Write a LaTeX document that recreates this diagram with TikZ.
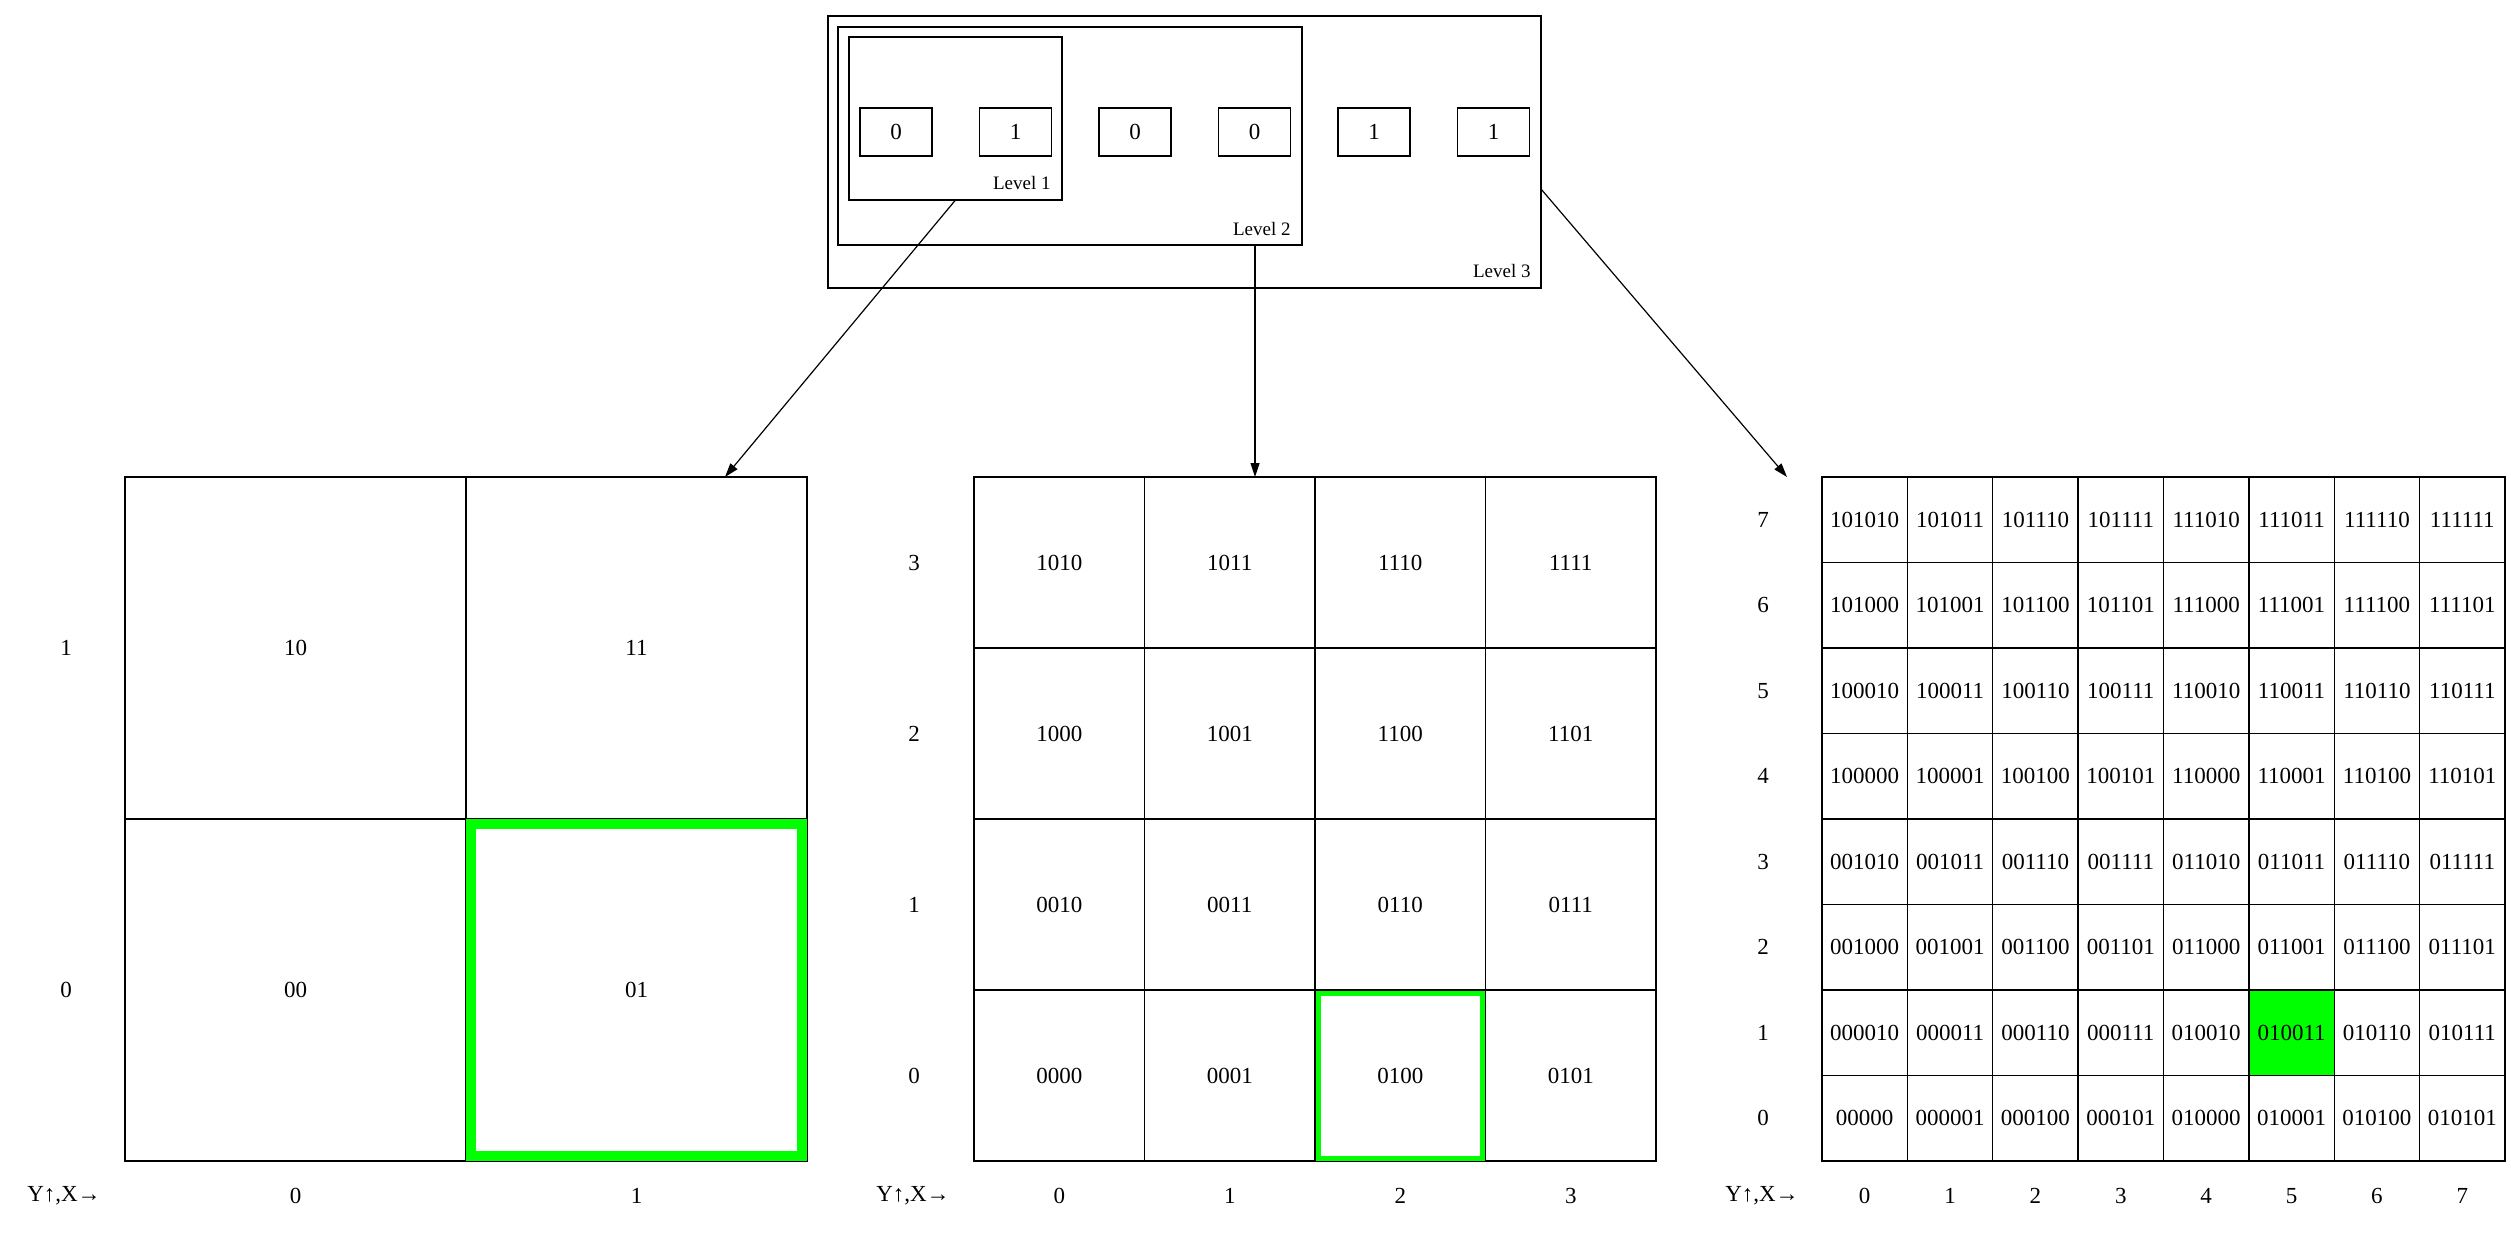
\documentclass[tikz,border=0pt]{standalone}
\usepackage{fontspec}
\setmainfont{Liberation Serif}
\usetikzlibrary{arrows.meta,positioning,backgrounds}
\definecolor{hitgreen}{RGB}{0,255,0}

\begin{document}
\begin{tikzpicture}[x=0.5pt,y=-0.5pt,
  every node/.style={font=\fontsize{11.5}{13}\selectfont},
  levelbox/.style={draw, line width=0.7pt, inner sep=0pt, outer sep=0pt},
  bitbox/.style={draw, line width=0.7pt, minimum width=36pt, minimum height=24pt, inner sep=0pt, outer sep=0pt},
  levellabel/.style={anchor=base east, inner sep=0pt, font=\fontsize{9.5}{11}\selectfont},
  bigcell/.style={draw, line width=0.7pt, minimum width=170.5pt, minimum height=171pt, inner sep=0pt, outer sep=0pt},
  midcell/.style={draw, line width=0.7pt, minimum width=85.25pt, minimum height=85.5pt, inner sep=0pt, outer sep=0pt},
  smallcell/.style={draw, line width=0.7pt, minimum width=42.69pt, minimum height=42.75pt, inner sep=0pt, outer sep=0pt},
  link/.style={-{Triangle[length=7pt,width=4.5pt]}, line width=0.6pt}
]
\useasboundingbox (0,0) rectangle (2511,1237);

% Nested levels
\node[levelbox, minimum width=356.5pt, minimum height=136pt] (lvl3) at (1184.5,152) {};
\node[levelbox, minimum width=232pt, minimum height=109pt] (lvl2) at (1070,136) {};
\node[levelbox, minimum width=106.5pt, minimum height=81.5pt] (lvl1) at (955.5,118.5) {};
\node[levellabel] at ([shift={(-11,-11)}]lvl1.south east) {Level 1};
\node[levellabel] at ([shift={(-11,-10)}]lvl2.south east) {Level 2};
\node[levellabel] at ([shift={(-10,-11)}]lvl3.south east) {Level 3};

% Bits
\node[bitbox] (bit1) at (896,132) {0};
\node[bitbox, right=23.75pt of bit1] (bit2) {1};
\node[bitbox, right=23.75pt of bit2] (bit3) {0};
\node[bitbox, right=23.75pt of bit3] (bit4) {0};
\node[bitbox, right=23.75pt of bit4] (bit5) {1};
\node[bitbox, right=23.75pt of bit5] (bit6) {1};

% Level 1 grid
\foreach \c/\r/\lab in {0/1/10, 1/1/11, 0/0/00, 1/0/01}
  \node[bigcell] (lc-\c-\r) at ({295.5+341*\c},{990-342*\r}) {\lab};
\node at (66,648) {1};
\node at (66,990) {0};
\node at (64,1196) {Y↑,X→};
\node at (295.5,1196) {0};
\node at (636.5,1196) {1};
\draw[hitgreen, line width=5pt] ([shift={(5,-5)}]lc-1-0.south west) rectangle ([shift={(-5,5)}]lc-1-0.north east);

% Level 2 grid
\foreach \r/\labels in {3/{1010,1011,1110,1111}, 2/{1000,1001,1100,1101},
                        1/{0010,0011,0110,0111}, 0/{0000,0001,0100,0101}}
  \foreach \lab [count=\c from 0] in \labels
    \node[midcell] (mc-\c-\r) at ({974+170.5*(\c+0.5)},{477+171*(3.5-\r)}) {\lab};
\foreach \r in {0,...,3}
  \node at (914,{477+171*(3.5-\r)}) {\r};
\foreach \c in {0,...,3}
  \node at ({974+170.5*(\c+0.5)},1196) {\c};
\node at (913,1196) {Y↑,X→};
\draw[hitgreen, line width=2.5pt] ([shift={(3,-3)}]mc-2-0.south west) rectangle ([shift={(-3,3)}]mc-2-0.north east);

% Level 3 grid
\foreach \r/\labels in {7/{101010,101011,101110,101111,111010,111011,111110,111111},
                        6/{101000,101001,101100,101101,111000,111001,111100,111101},
                        5/{100010,100011,100110,100111,110010,110011,110110,110111},
                        4/{100000,100001,100100,100101,110000,110001,110100,110101},
                        3/{001010,001011,001110,001111,011010,011011,011110,011111},
                        2/{001000,001001,001100,001101,011000,011001,011100,011101},
                        1/{000010,000011,000110,000111,010010,010011,010110,010111},
                        0/{00000,000001,000100,000101,010000,010001,010100,010101}}
  \foreach \lab [count=\c from 0] in \labels
    \node[smallcell] (rc-\c-\r) at ({1822+85.375*(\c+0.5)},{477+85.5*(7.5-\r)}) {\lab};
\foreach \r in {0,...,7}
  \node at (1763,{477+85.5*(7.5-\r)}) {\r};
\foreach \c in {0,...,7}
  \node at ({1822+85.375*(\c+0.5)},1196) {\c};
\node at (1762,1196) {Y↑,X→};
\begin{scope}[on background layer]
  \fill[hitgreen] (rc-5-1.south west) rectangle (rc-5-1.north east);
\end{scope}

% Arrows
\coordinate (lgtop) at (725,477);
\coordinate (mgtop) at (1255,477);
\coordinate (rgtop) at (1787,477);
\draw[link] (lvl1.south) -- (lgtop);
\draw[link] (lvl2.south -| mgtop) -- (mgtop);
\draw[link] ([shift={(0,37)}]lvl3.east) -- (rgtop);
\end{tikzpicture}
\end{document}
